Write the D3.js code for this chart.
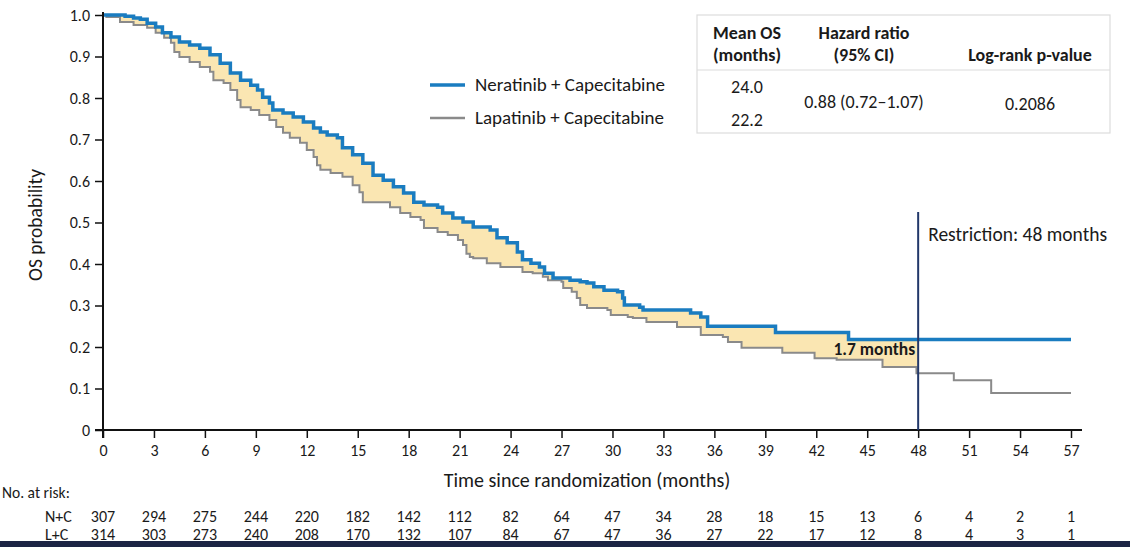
<!DOCTYPE html>
<html>
<head>
<meta charset="utf-8">
<script src="https://cdn.jsdelivr.net/npm/d3@7"></script>
<style>
  body { margin: 0; background: #fff; }
  text { font-family: Carlito, Lato, "Open Sans", sans-serif; fill: #1a1a1a; }
</style>
</head>
<body>
<script>
// KM step points: time (months) where survival changes, and survival after that time
var nerTime = [0, 1.3, 1.8, 2.2, 2.6, 3.1, 3.5, 4.0, 4.5, 5.1, 5.7, 6.3, 6.9, 7.5, 8.1, 8.7, 9.1, 9.4, 9.8, 10.0,
  10.6, 11.2, 11.8, 12.4, 12.8, 13.2, 13.8, 14.1, 14.7, 15.3, 15.9, 16.5, 17.1, 17.7, 18.3, 18.9, 19.7, 20.0,
  20.6, 21.2, 21.8, 22.8, 23.2, 23.8, 24.4, 24.7, 25.2, 25.7, 26.0, 26.5, 27.5, 28.1, 28.5, 28.9, 29.5, 30.3,
  30.6, 30.7, 31.6, 31.8, 34.6, 35.2, 35.6, 39.6, 43.9, 57];
var nerSurv = [1.0, 0.997, 0.993, 0.99, 0.98, 0.971, 0.957, 0.947, 0.935, 0.928, 0.92, 0.904, 0.884, 0.86, 0.843,
  0.831, 0.819, 0.802, 0.788, 0.771, 0.764, 0.754, 0.742, 0.728, 0.718, 0.711, 0.704, 0.68, 0.663, 0.643, 0.614,
  0.602, 0.586, 0.571, 0.549, 0.542, 0.537, 0.523, 0.511, 0.501, 0.489, 0.482, 0.463, 0.451, 0.429, 0.41, 0.402,
  0.393, 0.378, 0.366, 0.361, 0.357, 0.354, 0.345, 0.337, 0.333, 0.318, 0.301, 0.296, 0.289, 0.282, 0.272, 0.25,
  0.235, 0.218, 0.218];

var lapTime = [0, 0.2, 1.0, 1.8, 2.6, 3.1, 3.6, 4.0, 4.2, 4.5, 5.1, 5.7, 6.3, 6.5, 7.1, 7.5, 7.9, 8.1, 8.7, 9.2,
  9.8, 10.2, 10.6, 11.0, 11.6, 12.0, 12.4, 12.6, 12.8, 13.4, 14.1, 14.7, 15.1, 15.3, 16.9, 17.5, 18.1, 18.7, 18.9,
  19.7, 20.3, 20.9, 21.2, 21.4, 21.6, 21.8, 22.6, 23.4, 24.7, 25.3, 25.9, 26.2, 27.0, 27.1, 27.6, 27.9, 28.1, 28.5,
  29.7, 29.9, 30.9, 31.2, 32.0, 33.8, 35.2, 36.5, 36.8, 37.6, 40.0, 41.9, 43.2, 45.9, 47.9, 50.1, 52.3, 57];
var lapSurv = [1.0, 0.995, 0.983, 0.976, 0.969, 0.957, 0.945, 0.933, 0.911, 0.899, 0.887, 0.875, 0.863, 0.843,
  0.836, 0.819, 0.795, 0.778, 0.771, 0.759, 0.747, 0.73, 0.716, 0.704, 0.692, 0.675, 0.658, 0.638, 0.627, 0.619,
  0.61, 0.59, 0.573, 0.549, 0.537, 0.523, 0.513, 0.506, 0.487, 0.477, 0.47, 0.458, 0.446, 0.425, 0.417, 0.414,
  0.402, 0.393, 0.381, 0.378, 0.369, 0.361, 0.357, 0.342, 0.333, 0.318, 0.301, 0.294, 0.289, 0.277, 0.272, 0.27,
  0.26, 0.248, 0.229, 0.224, 0.212, 0.198, 0.186, 0.173, 0.169, 0.152, 0.137, 0.12, 0.089, 0.089];

var xTicks = [0, 3, 6, 9, 12, 15, 18, 21, 24, 27, 30, 33, 36, 39, 42, 45, 48, 51, 54, 57];
var yTicks = [0, 0.1, 0.2, 0.3, 0.4, 0.5, 0.6, 0.7, 0.8, 0.9, 1.0];
var riskNC = [307, 294, 275, 244, 220, 182, 142, 112, 82, 64, 47, 34, 28, 18, 15, 13, 6, 4, 2, 1];
var riskLC = [314, 303, 273, 240, 208, 170, 132, 107, 84, 67, 47, 36, 27, 22, 17, 12, 8, 4, 3, 1];
var armNames = ["Neratinib + Capecitabine", "Lapatinib + Capecitabine"];
var meanOS = ["24.0", "22.2"];
var restriction = 48;

var blue = "#1a7cc0", grey = "#8a8a8a", fillCol = "#fae6b2", navy = "#22386a";

var svg = d3.select("body").append("svg").attr("width", 1130).attr("height", 547);

var x = d3.scaleLinear().domain([0, 57]).range([103, 1071]);
var y = d3.scaleLinear().domain([0, 1]).range([430, 15]);

function pts(t, s) { return t.map(function (d, i) { return [d, s[i]]; }); }
var ner = pts(nerTime, nerSurv), lap = pts(lapTime, lapSurv);

function stepVal(data, t) {
  var v = data[0][1];
  for (var i = 0; i < data.length; i++) { if (data[i][0] <= t) v = data[i][1]; }
  return v;
}

// shaded area between curves up to restriction time
var grid = Array.from(new Set(nerTime.concat(lapTime).filter(function (d) { return d < restriction; })))
  .sort(function (a, b) { return a - b; });
grid.push(restriction);
var area = d3.area()
  .curve(d3.curveStepAfter)
  .x(function (d) { return x(d); })
  .y0(function (d) { return y(stepVal(lap, d)); })
  .y1(function (d) { return y(stepVal(ner, d)); });
svg.append("path").datum(grid).attr("d", area).attr("fill", fillCol);

var line = d3.line().curve(d3.curveStepAfter)
  .x(function (d) { return x(d[0]); }).y(function (d) { return y(d[1]); });

svg.append("path").datum(lap).attr("d", line).attr("fill", "none")
  .attr("stroke", grey).attr("stroke-width", 2);
svg.append("path").datum(ner).attr("d", line).attr("fill", "none")
  .attr("stroke", blue).attr("stroke-width", 3.5);

// axes
var xAxis = svg.append("g").attr("transform", "translate(0,430)")
  .call(d3.axisBottom(x).tickValues(xTicks).tickSize(8).tickPadding(7).tickFormat(d3.format("d")));
xAxis.select(".domain").remove();
xAxis.selectAll("line").attr("stroke", "#111").attr("stroke-width", 1.5);
xAxis.selectAll("text").attr("font-size", 16).style("font-family", "Carlito, Lato, sans-serif");

var yAxis = svg.append("g").attr("transform", "translate(103,0)")
  .call(d3.axisLeft(y).tickValues(yTicks).tickSize(8).tickPadding(5)
    .tickFormat(function (d) { return d === 0 ? "0" : d3.format(".1f")(d); }));
yAxis.select(".domain").remove();
yAxis.selectAll("line").attr("stroke", "#111").attr("stroke-width", 1.5);
yAxis.selectAll("text").attr("font-size", 16).style("font-family", "Carlito, Lato, sans-serif");

svg.append("line").attr("x1", 95).attr("x2", 1082).attr("y1", 430).attr("y2", 430)
  .attr("stroke", "#111").attr("stroke-width", 2);
svg.append("line").attr("x1", 103).attr("x2", 103).attr("y1", 12).attr("y2", 438)
  .attr("stroke", "#111").attr("stroke-width", 2);

svg.append("text").attr("x", 587).attr("y", 487).attr("text-anchor", "middle")
  .attr("font-size", 20).text("Time since randomization (months)");
svg.append("text").attr("transform", "translate(42,225) rotate(-90)").attr("text-anchor", "middle")
  .attr("font-size", 19.5).text("OS probability");

// restriction line
svg.append("line").attr("x1", x(restriction)).attr("x2", x(restriction)).attr("y1", 212).attr("y2", 430)
  .attr("stroke", navy).attr("stroke-width", 2);
svg.append("text").attr("x", x(restriction) + 10).attr("y", 241).attr("font-size", 19.5)
  .text("Restriction: 48 months");
svg.append("text").attr("x", x(restriction) - 3).attr("y", 355).attr("text-anchor", "end")
  .attr("font-size", 17.5).attr("font-weight", "bold").text("1.7 months");

// legend
var leg = svg.append("g");
[blue, grey].forEach(function (c, i) {
  leg.append("line").attr("x1", 430).attr("x2", 465).attr("y1", 85 + i * 33).attr("y2", 85 + i * 33)
    .attr("stroke", c).attr("stroke-width", i === 0 ? 3.5 : 2.5);
  leg.append("text").attr("x", 475).attr("y", 91 + i * 33).attr("font-size", 19).text(armNames[i]);
});

// stats table
var tb = svg.append("g");
tb.append("rect").attr("x", 697).attr("y", 15).attr("width", 413).attr("height", 118)
  .attr("fill", "#fff").attr("stroke", "#dcdcdc").attr("stroke-width", 1.2);
tb.append("line").attr("x1", 697).attr("x2", 1110).attr("y1", 70).attr("y2", 70)
  .attr("stroke", "#dcdcdc").attr("stroke-width", 1.2);
var hdr = [["Mean OS", 747, 39], ["(months)", 747, 61], ["Hazard ratio", 864, 39], ["(95% CI)", 864, 61],
  ["Log-rank p-value", 1030, 61]];
hdr.forEach(function (h) {
  tb.append("text").attr("x", h[1]).attr("y", h[2]).attr("text-anchor", "middle")
    .attr("font-size", 18).attr("font-weight", "bold").text(h[0]);
});
meanOS.forEach(function (m, i) {
  tb.append("text").attr("x", 747).attr("y", 93 + i * 33).attr("text-anchor", "middle")
    .attr("font-size", 18).text(m);
});
tb.append("text").attr("x", 864).attr("y", 108).attr("text-anchor", "middle").attr("font-size", 18)
  .text("0.88 (0.72\u20131.07)");
tb.append("text").attr("x", 1030).attr("y", 110).attr("text-anchor", "middle").attr("font-size", 18)
  .text("0.2086");

// number at risk
svg.append("text").attr("x", 2).attr("y", 498).attr("font-size", 15.5).text("No. at risk:");
[["N+C", riskNC, 522], ["L+C", riskLC, 540]].forEach(function (r) {
  svg.append("text").attr("x", 45).attr("y", r[2]).attr("font-size", 16).text(r[0]);
  svg.selectAll(null).data(r[1]).enter().append("text")
    .attr("x", function (d, i) { return x(xTicks[i]); })
    .attr("y", r[2]).attr("text-anchor", "middle").attr("font-size", 16)
    .text(function (d) { return d; });
});

// dark bar at bottom edge
svg.append("rect").attr("x", 0).attr("y", 541).attr("width", 1130).attr("height", 6).attr("fill", "#1c2444");
</script>
</body>
</html>
